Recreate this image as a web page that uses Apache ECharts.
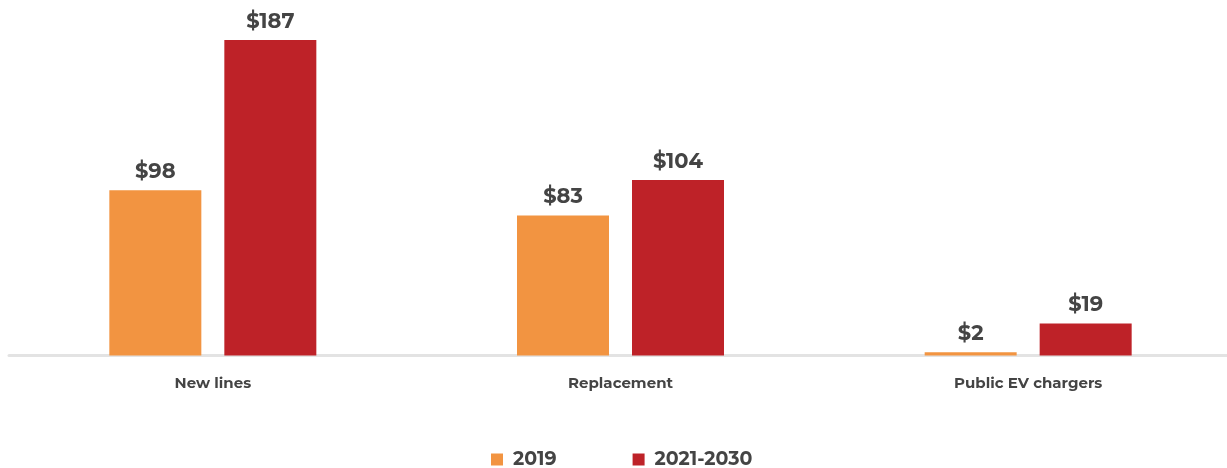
<!DOCTYPE html>
<html>
<head>
<meta charset="utf-8">
<script src="https://cdn.jsdelivr.net/npm/echarts@6/dist/echarts.min.js"></script>
<style>
  html, body { margin: 0; padding: 0; background: #ffffff; overflow: hidden; }
  /* the axis line runs slightly past the right edge of the page */
  #chart { width: 1232px; height: 468px; }
</style>
</head>
<body>
<div id="chart"></div>
<script>
// Investment by category (billions of dollars)
const categories = ['New lines', 'Replacement', 'Public EV chargers'];
const seriesNames = ['2019', '2021-2030'];
const values2019 = [98, 83, 2];
const values2021to2030 = [187, 104, 19];
const colors = ['#F29441', '#BE2228'];

const textColor = '#444444';
const fontFamily = 'Montserrat, "Open Sans", Lato, sans-serif';

const chart = echarts.init(document.getElementById('chart'), null, { renderer: 'canvas' });

const labelStyle = {
  show: true,
  position: 'top',
  distance: 8,
  formatter: p => '$' + p.value,
  color: textColor,
  fontSize: 21,
  fontWeight: 'bold',
  fontFamily: fontFamily
};

chart.setOption({
  animation: false,
  color: colors,
  grid: { left: 9, right: 0, top: 18, bottom: 112.5, containLabel: false },
  legend: {
    data: seriesNames,
    left: 491,
    top: 450,
    padding: 0,
    itemWidth: 12,
    itemHeight: 12,
    itemGap: 76,
    icon: 'rect',
    textStyle: { color: textColor, fontSize: 19, fontWeight: 'bold', fontFamily: fontFamily, padding: [0, 0, 0, 5] }
  },
  xAxis: {
    type: 'category',
    data: categories,
    axisLine: { show: true, lineStyle: { color: '#e3e3e3', width: 3 } },
    axisTick: { show: false },
    axisLabel: { color: textColor, fontSize: 15, fontWeight: 'bold', fontFamily: fontFamily, margin: 21 }
  },
  yAxis: {
    type: 'value',
    min: 0,
    max: 200,
    show: false,
    splitLine: { show: false }
  },
  series: [
    {
      name: seriesNames[0],
      type: 'bar',
      data: values2019,
      barWidth: 92,
      barGap: '25%',
      label: labelStyle
    },
    {
      name: seriesNames[1],
      type: 'bar',
      data: values2021to2030,
      barWidth: 92,
      label: labelStyle
    }
  ]
});
</script>
</body>
</html>
